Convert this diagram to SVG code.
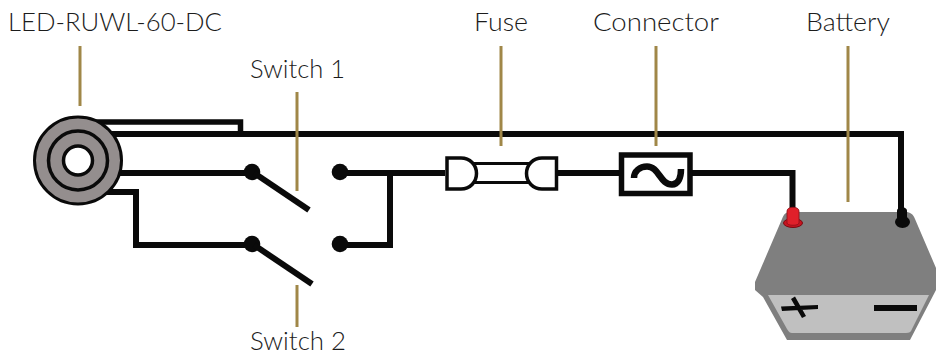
<svg xmlns="http://www.w3.org/2000/svg" width="936" height="356" viewBox="0 0 936 356">
<style>
.w{fill:none;stroke:#0a0a0a;stroke-width:6}
.l{fill:none;stroke:#a08748;stroke-width:3}
.t{font-family:"Lato","Liberation Sans",sans-serif;font-size:26px;font-weight:300;fill:#1c1c1c}
.d{fill:#0a0a0a}
</style>
<rect width="936" height="356" fill="#fff"/>
<g id="connectors">
<path class="w" d="M100 134H901V212"/>
<path class="w" d="M95 122H240.500V134" style="stroke-width:5.500"/>
<path class="w" d="M115 173H252"/>
<path class="w" d="M105 192H136V245H252"/>
<path class="w" d="M340 173H445"/>
<path class="w" d="M340 245H390V173"/>
<path class="w" d="M558 173H622"/>
<path class="w" d="M690 173H792.500V212"/>
</g>
<g id="leaders">
<path class="l" d="M80 46V106M297 92V191M297 285V327M501 46V146M656 46V146M848 46V202"/>
</g>
<g id="led">
<circle cx="78" cy="160.500" r="43.500" fill="#948e8e" stroke="#0a0a0a" stroke-width="3"/>
<circle cx="78" cy="160.500" r="29.500" fill="none" stroke="#0a0a0a" stroke-width="3.500"/>
<circle cx="78" cy="160.500" r="14.500" fill="#fff" stroke="#0a0a0a" stroke-width="3.500"/>
<text class="t" x="8" y="31" textLength="214" lengthAdjust="spacingAndGlyphs">LED-RUWL-60-DC</text>
</g>
<g id="switch1">
<circle class="d" cx="252" cy="172" r="8.300"/>
<circle class="d" cx="340" cy="172" r="8.300"/>
<path class="w" d="M254 173L309 210"/>
<text class="t" x="250" y="78" textLength="95" lengthAdjust="spacingAndGlyphs">Switch 1</text>
</g>
<g id="switch2">
<circle class="d" cx="252" cy="244" r="8.300"/>
<circle class="d" cx="340" cy="244" r="8.300"/>
<path class="w" d="M254 245L312 284"/>
<text class="t" x="250" y="350" textLength="96" lengthAdjust="spacingAndGlyphs">Switch 2</text>
</g>
<g id="fuse">
<path d="M470 163.500H535M470 182.500H535" fill="none" stroke="#0a0a0a" stroke-width="3"/>
<path d="M447 158H461C470 158 476.500 165 476.500 173.500C476.500 182 470 189 461 189H447Z" fill="#fff" stroke="#0a0a0a" stroke-width="3.500"/>
<path d="M556.500 158H542C533 158 526.500 165 526.500 173.500C526.500 182 533 189 542 189H556.500Z" fill="#fff" stroke="#0a0a0a" stroke-width="3.500"/>
<text class="t" x="474" y="31" textLength="54" lengthAdjust="spacingAndGlyphs">Fuse</text>
</g>
<g id="connector">
<rect x="621.500" y="155" width="68.500" height="38.500" fill="#fff" stroke="#0a0a0a" stroke-width="5.500"/>
<path d="M634 178C634 171 640 166.500 647 166.500C659 166.500 660 184.500 672 184.500C678 184.500 681 178 681 169" fill="none" stroke="#0a0a0a" stroke-width="6.500"/>
<text class="t" x="593" y="31" textLength="126" lengthAdjust="spacingAndGlyphs">Connector</text>
</g>
<g id="battery">
<path d="M789 212H906C910 212 913 214 915 219L936 268V290L910 340H787L763 297L755 290V282L782 219C784 214 786 212 789 212Z" fill="#7f7f7f"/>
<path d="M768 295H929L912 329C911 332 909 333 906 333H792C790 333 789 332 787 329Z" fill="#c0c0c0"/>
<path class="d" d="M781 306.500L818 305V309L782 311ZM791 299L795 296.500L806 316L802 318Z"/>
<path class="d" d="M874 305H917V311H874Z"/>
<ellipse cx="793" cy="223" rx="9.500" ry="4.500" fill="#c81420" stroke="#7a0a10" stroke-width="1"/>
<path d="M787 211C787 206 799 206 799 211V223C799 226 787 226 787 223Z" fill="#e0202a" stroke="#8a1018" stroke-width="0.800"/>
<ellipse cx="902.500" cy="222" rx="7.500" ry="6" fill="#0a0a0a"/>
<path d="M897 211C897 206 907 206 907 211V222H897Z" class="d"/>
<text class="t" x="806" y="31" textLength="84" lengthAdjust="spacingAndGlyphs">Battery</text>
</g>
</svg>
